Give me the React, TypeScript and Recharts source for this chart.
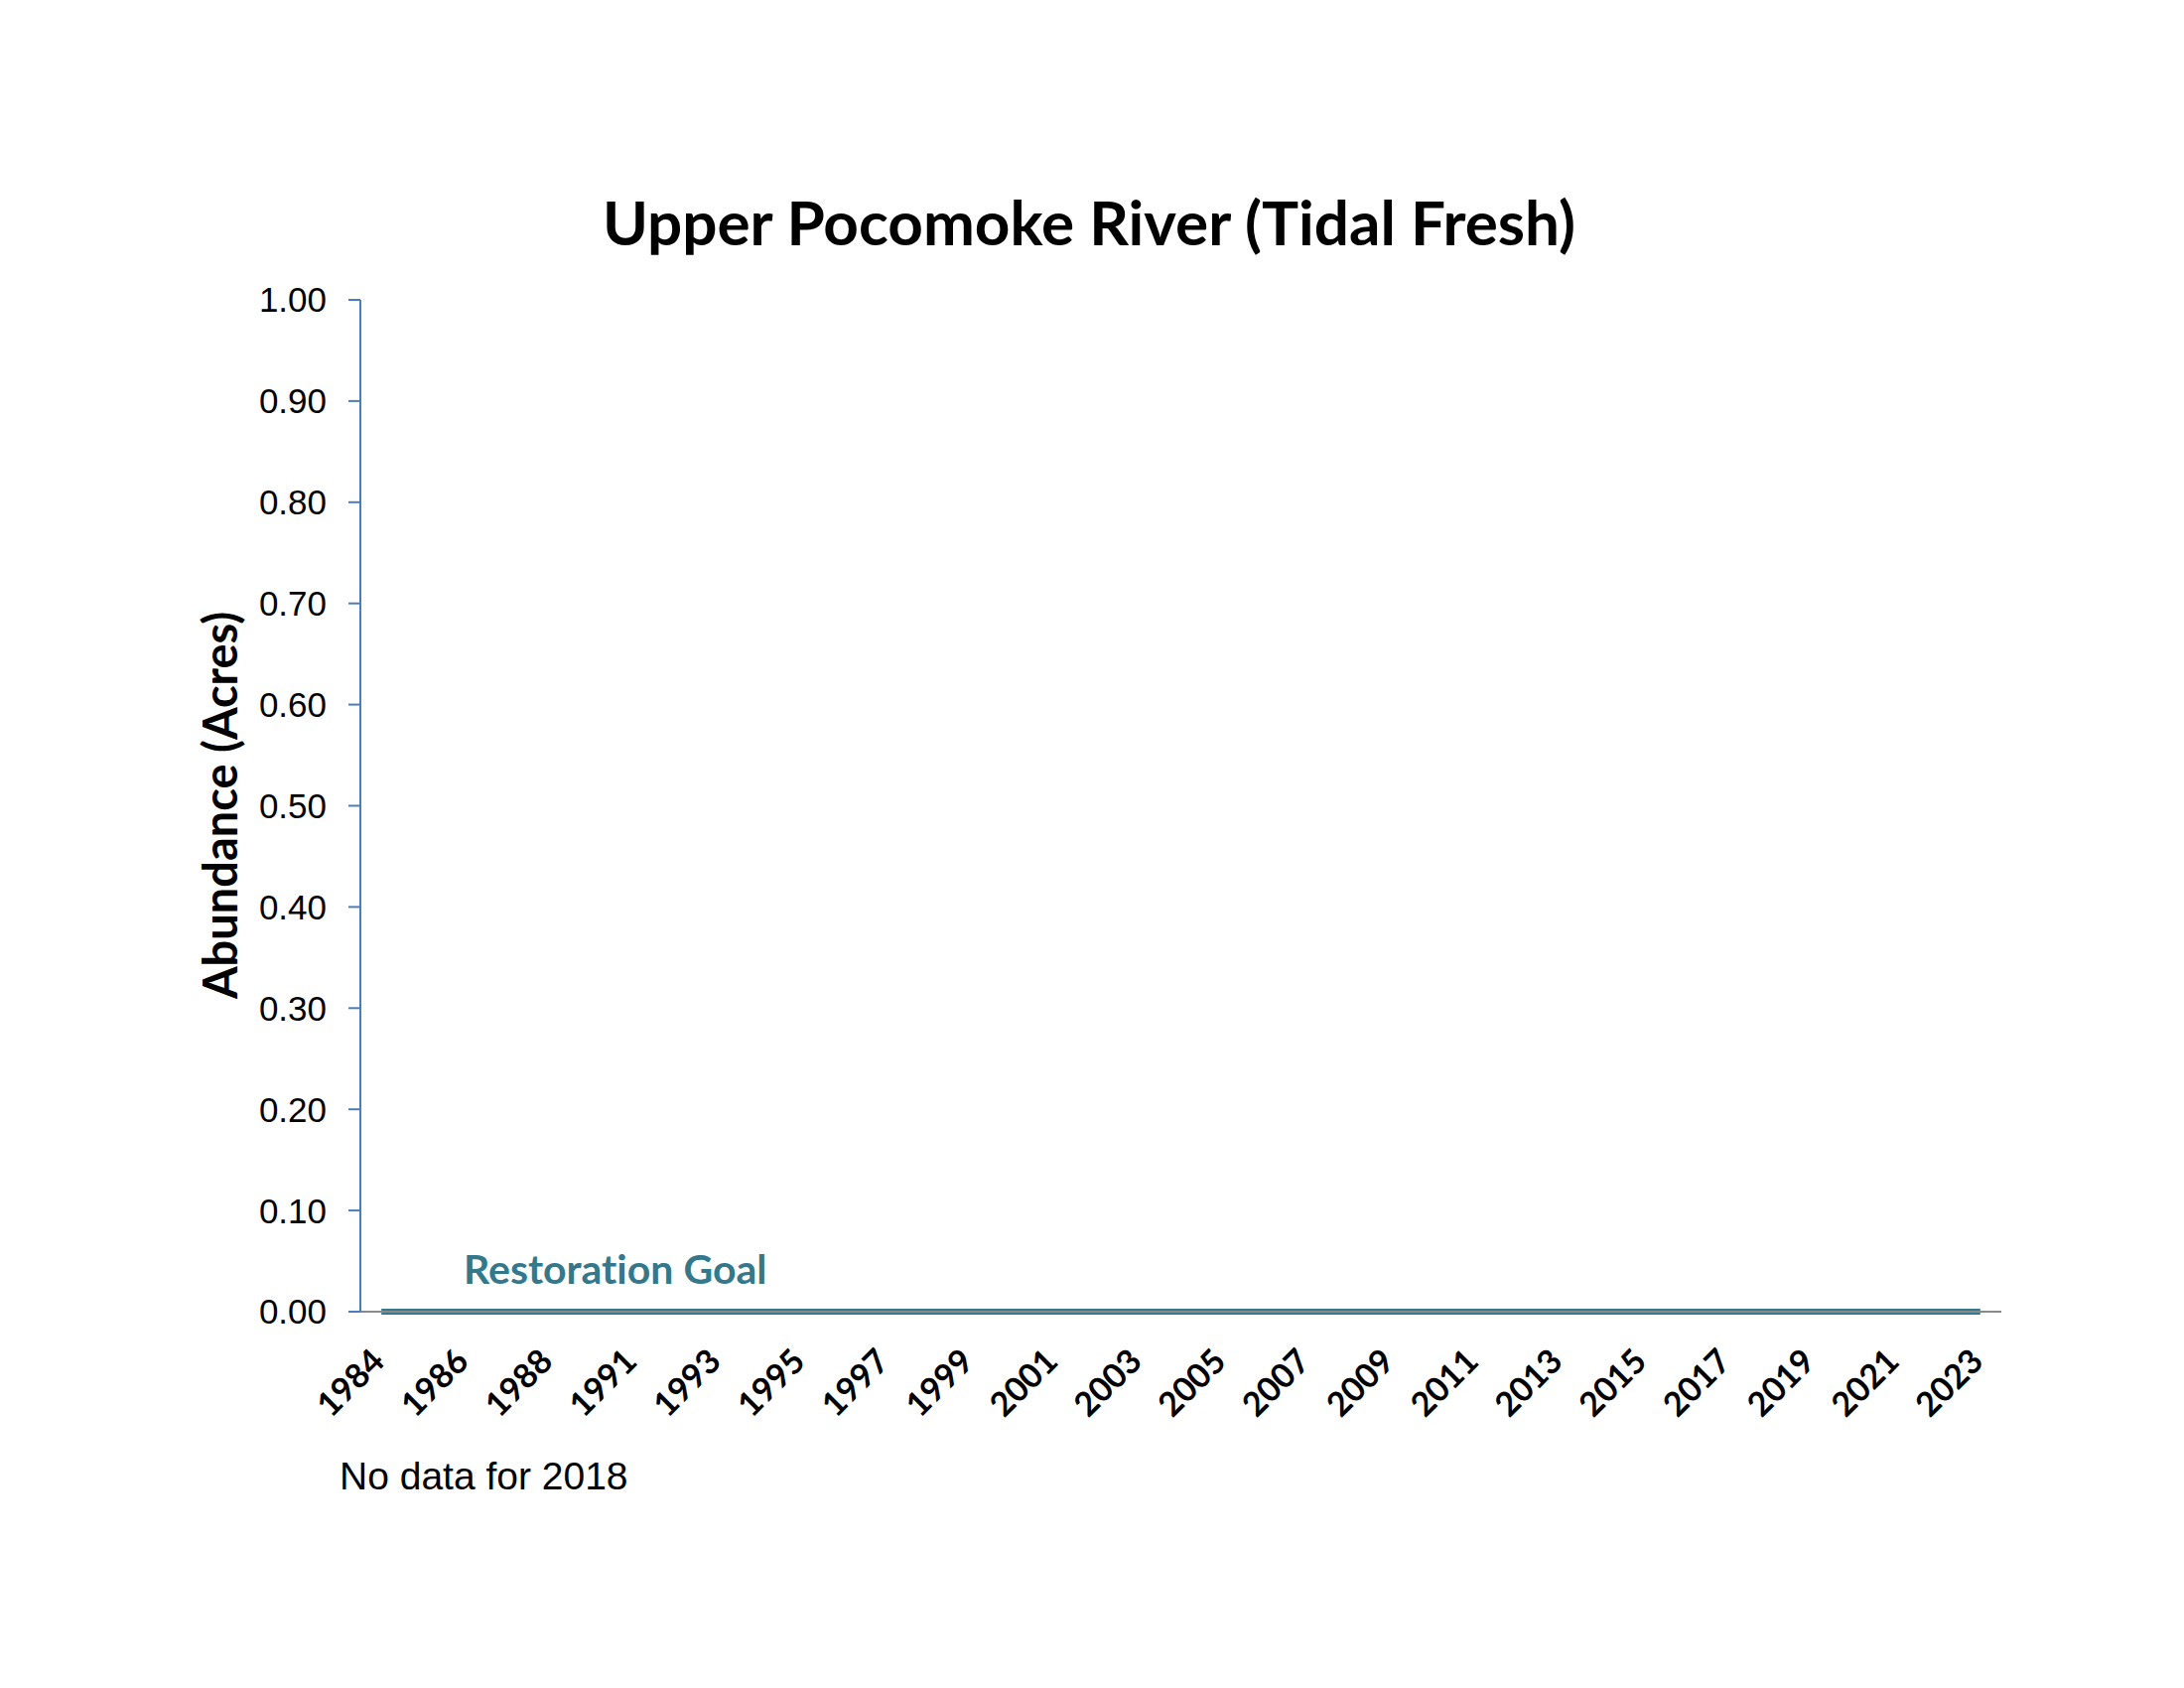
import React from "react";
import { ComposedChart, Bar, Line, XAxis, YAxis } from "recharts";

const years: string[] = [
  "1984", "1985", "1986", "1987", "1988", "1989",
  "1991", "1992", "1993", "1994", "1995", "1996", "1997", "1998", "1999", "2000",
  "2001", "2002", "2003", "2004", "2005", "2006", "2007", "2008", "2009", "2010",
  "2011", "2012", "2013", "2014", "2015", "2016", "2017", "2018", "2019", "2020",
  "2021", "2022", "2023",
];

// SAV abundance (acres); no survey in 2018
const abundance: (number | null)[] = [
  0, 0, 0, 0, 0, 0,
  0, 0, 0, 0, 0, 0, 0, 0, 0, 0,
  0, 0, 0, 0, 0, 0, 0, 0, 0, 0,
  0, 0, 0, 0, 0, 0, 0, null, 0, 0,
  0, 0, 0,
];

// Restoration goal (acres)
const goal: number[] = years.map(() => 0);

const yTicks: number[] = [0, 0.1, 0.2, 0.3, 0.4, 0.5, 0.6, 0.7, 0.8, 0.9, 1.0];

const data = years.map((y, i) => ({ year: y, abundance: abundance[i], goal: goal[i] }));

const noLig: React.CSSProperties = { fontVariantLigatures: "none", fontFeatureSettings: "'liga' 0" };

const XTick = (props: any) => {
  const { x, y, payload } = props;
  return (
    <g transform={`translate(${x + 5},${y + 52})`}>
      <text
        x={0}
        y={0}
        textAnchor="end"
        transform="rotate(-45)"
        fontFamily="Lato, 'Open Sans', sans-serif"
        fontWeight="bold"
        fontSize={34}
        fill="#000"
      >
        {payload.value}
      </text>
    </g>
  );
};

export default function App() {
  return (
    <div style={{ position: "absolute", left: 0, top: 0, width: 2200, height: 1700, background: "#fff" }}>
      <ComposedChart
        width={2200}
        height={1700}
        data={data}
        margin={{ top: 302, right: 184, bottom: 279, left: 263 }}
      >
        <XAxis
          dataKey="year"
          scale="band"
          interval={1}
          tickLine={false}
          tickSize={0}
          tickMargin={0}
          height={100}
          axisLine={{ stroke: "#898989", strokeWidth: 2 }}
          tick={<XTick />}
        />
        <YAxis
          width={100}
          domain={[0, 1]}
          ticks={yTicks}
          interval={0}
          tickFormatter={(v: number) => v.toFixed(2)}
          axisLine={{ stroke: "#4a7ebb", strokeWidth: 2 }}
          tickLine={{ stroke: "#4a7ebb", strokeWidth: 2 }}
          tickSize={12}
          tickMargin={22}
          tick={{ fill: "#000", fontSize: 35, fontFamily: "'Liberation Sans', Arial, sans-serif" }}
        />
        <Bar dataKey="abundance" fill="#4a7ebb" isAnimationActive={false} />
        <Line
          dataKey="goal"
          stroke="#34798b"
          strokeWidth={6}
          dot={false}
          activeDot={false}
          isAnimationActive={false}
        />
      </ComposedChart>
      <svg
        width={2200}
        height={1700}
        style={{ position: "absolute", left: 0, top: 0, pointerEvents: "none" }}
      >
        <text
          x={1097}
          y={247}
          textAnchor="middle"
          fontFamily="Lato, 'Open Sans', sans-serif"
          fontWeight="bold"
          fontSize={62}
          fill="#000"
          style={noLig}
        >
          Upper Pocomoke River (Tidal Fresh)
        </text>
        <text
          transform="translate(239,811) rotate(-90)"
          textAnchor="middle"
          fontFamily="Lato, 'Open Sans', sans-serif"
          fontWeight="bold"
          fontSize={47}
          fill="#000"
          style={noLig}
        >
          Abundance (Acres)
        </text>
        <text
          x={467}
          y={1293}
          fontFamily="Lato, 'Open Sans', sans-serif"
          fontWeight="bold"
          fontSize={41}
          fill="#34798b"
          style={noLig}
        >
          Restoration Goal
        </text>
        <text
          x={342}
          y={1500}
          fontFamily="'Liberation Sans', Arial, sans-serif"
          fontSize={39}
          fill="#000"
        >
          No data for 2018
        </text>
      </svg>
    </div>
  );
}
